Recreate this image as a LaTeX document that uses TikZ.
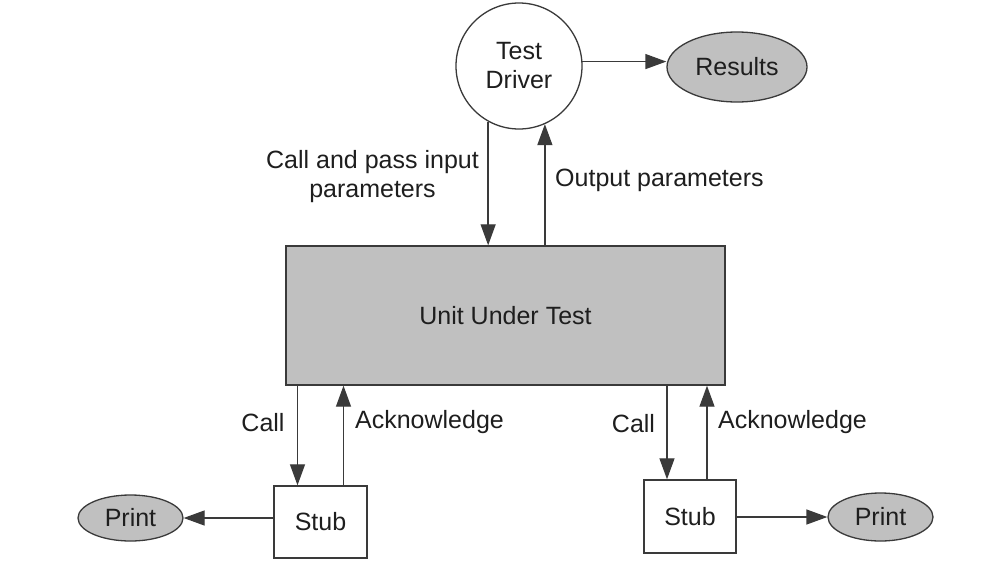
\documentclass[tikz,border=0pt]{standalone}
\usepackage{fontspec}
\setmainfont{Liberation Sans}
\usetikzlibrary{arrows.meta,shapes.geometric,calc}
\definecolor{boxgray}{HTML}{C0C0C0}
\definecolor{linegray}{HTML}{3A3A3A}
\definecolor{textdark}{HTML}{1E1E1E}
\begin{document}
\begin{tikzpicture}[x=1pt,y=-1pt,
  every node/.style={font=\fontsize{25}{29}\selectfont, text=textdark},
  arr/.style={draw=linegray, line width=1.3pt, -{Triangle[length=21pt,width=15pt]}},
  boxed/.style={draw=linegray, line width=1.4pt, rectangle, inner sep=0pt},
  oval/.style={draw=linegray, line width=1.3pt, ellipse, fill=boxgray, inner sep=0pt},
  lbl/.style={inner sep=0pt}]
\useasboundingbox[fill=white] (0,0) rectangle (986,568);
% nodes
\node[draw=linegray, line width=1.3pt, circle, minimum size=126pt, inner sep=0pt, align=center] (td) at (519,66) {Test\\Driver};
\node[oval, minimum width=140pt, minimum height=70pt] (res) at (737,67) {Results};
\node[boxed, fill=boxgray, minimum width=439pt, minimum height=139pt] (uut) at (505.5,315.5) {Unit Under Test};
\node[boxed, fill=white, minimum width=93pt, minimum height=72pt] (stubL) at (320.5,522) {Stub};
\node[boxed, fill=white, minimum width=92pt, minimum height=73pt] (stubR) at (690,516.5) {Stub};
\node[oval, minimum width=105pt, minimum height=46pt] (printL) at (130.5,518) {Print};
\node[oval, minimum width=105pt, minimum height=48pt] (printR) at (880.5,517) {Print};
% labels
\node[lbl, align=center] (l1) at (372.5,177) {Call and pass input\\parameters};
\node[lbl, anchor=west] (l2) at (555,180) {Output parameters};
\node[lbl] (l3) at (263,423) {Call};
\node[lbl] (l4) at (429.5,422) {Acknowledge};
\node[lbl] (l5) at (633.5,424) {Call};
\node[lbl] (l6) at (792.5,422) {Acknowledge};
% connectors
\draw[arr] (td.4) -- (td.4 -| res.west);
\draw[arr] (td.241) -- (td.241 |- uut.north);
\draw[arr] (td.294 |- uut.north) -- (td.294);
\draw[arr] ([xshift=-23pt]stubL.north |- uut.south) -- ([xshift=-23pt]stubL.north);
\draw[arr] ([xshift=23pt]stubL.north) -- ([xshift=23pt]stubL.north |- uut.south);
\draw[arr] ([xshift=-23pt]stubR.north |- uut.south) -- ([xshift=-23pt]stubR.north);
\draw[arr] ([xshift=17pt]stubR.north) -- ([xshift=17pt]stubR.north |- uut.south);
\draw[arr] (stubL.west |- printL.east) -- (printL.east);
\draw[arr] (stubR.east |- printR.west) -- (printR.west);
\end{tikzpicture}
\end{document}
